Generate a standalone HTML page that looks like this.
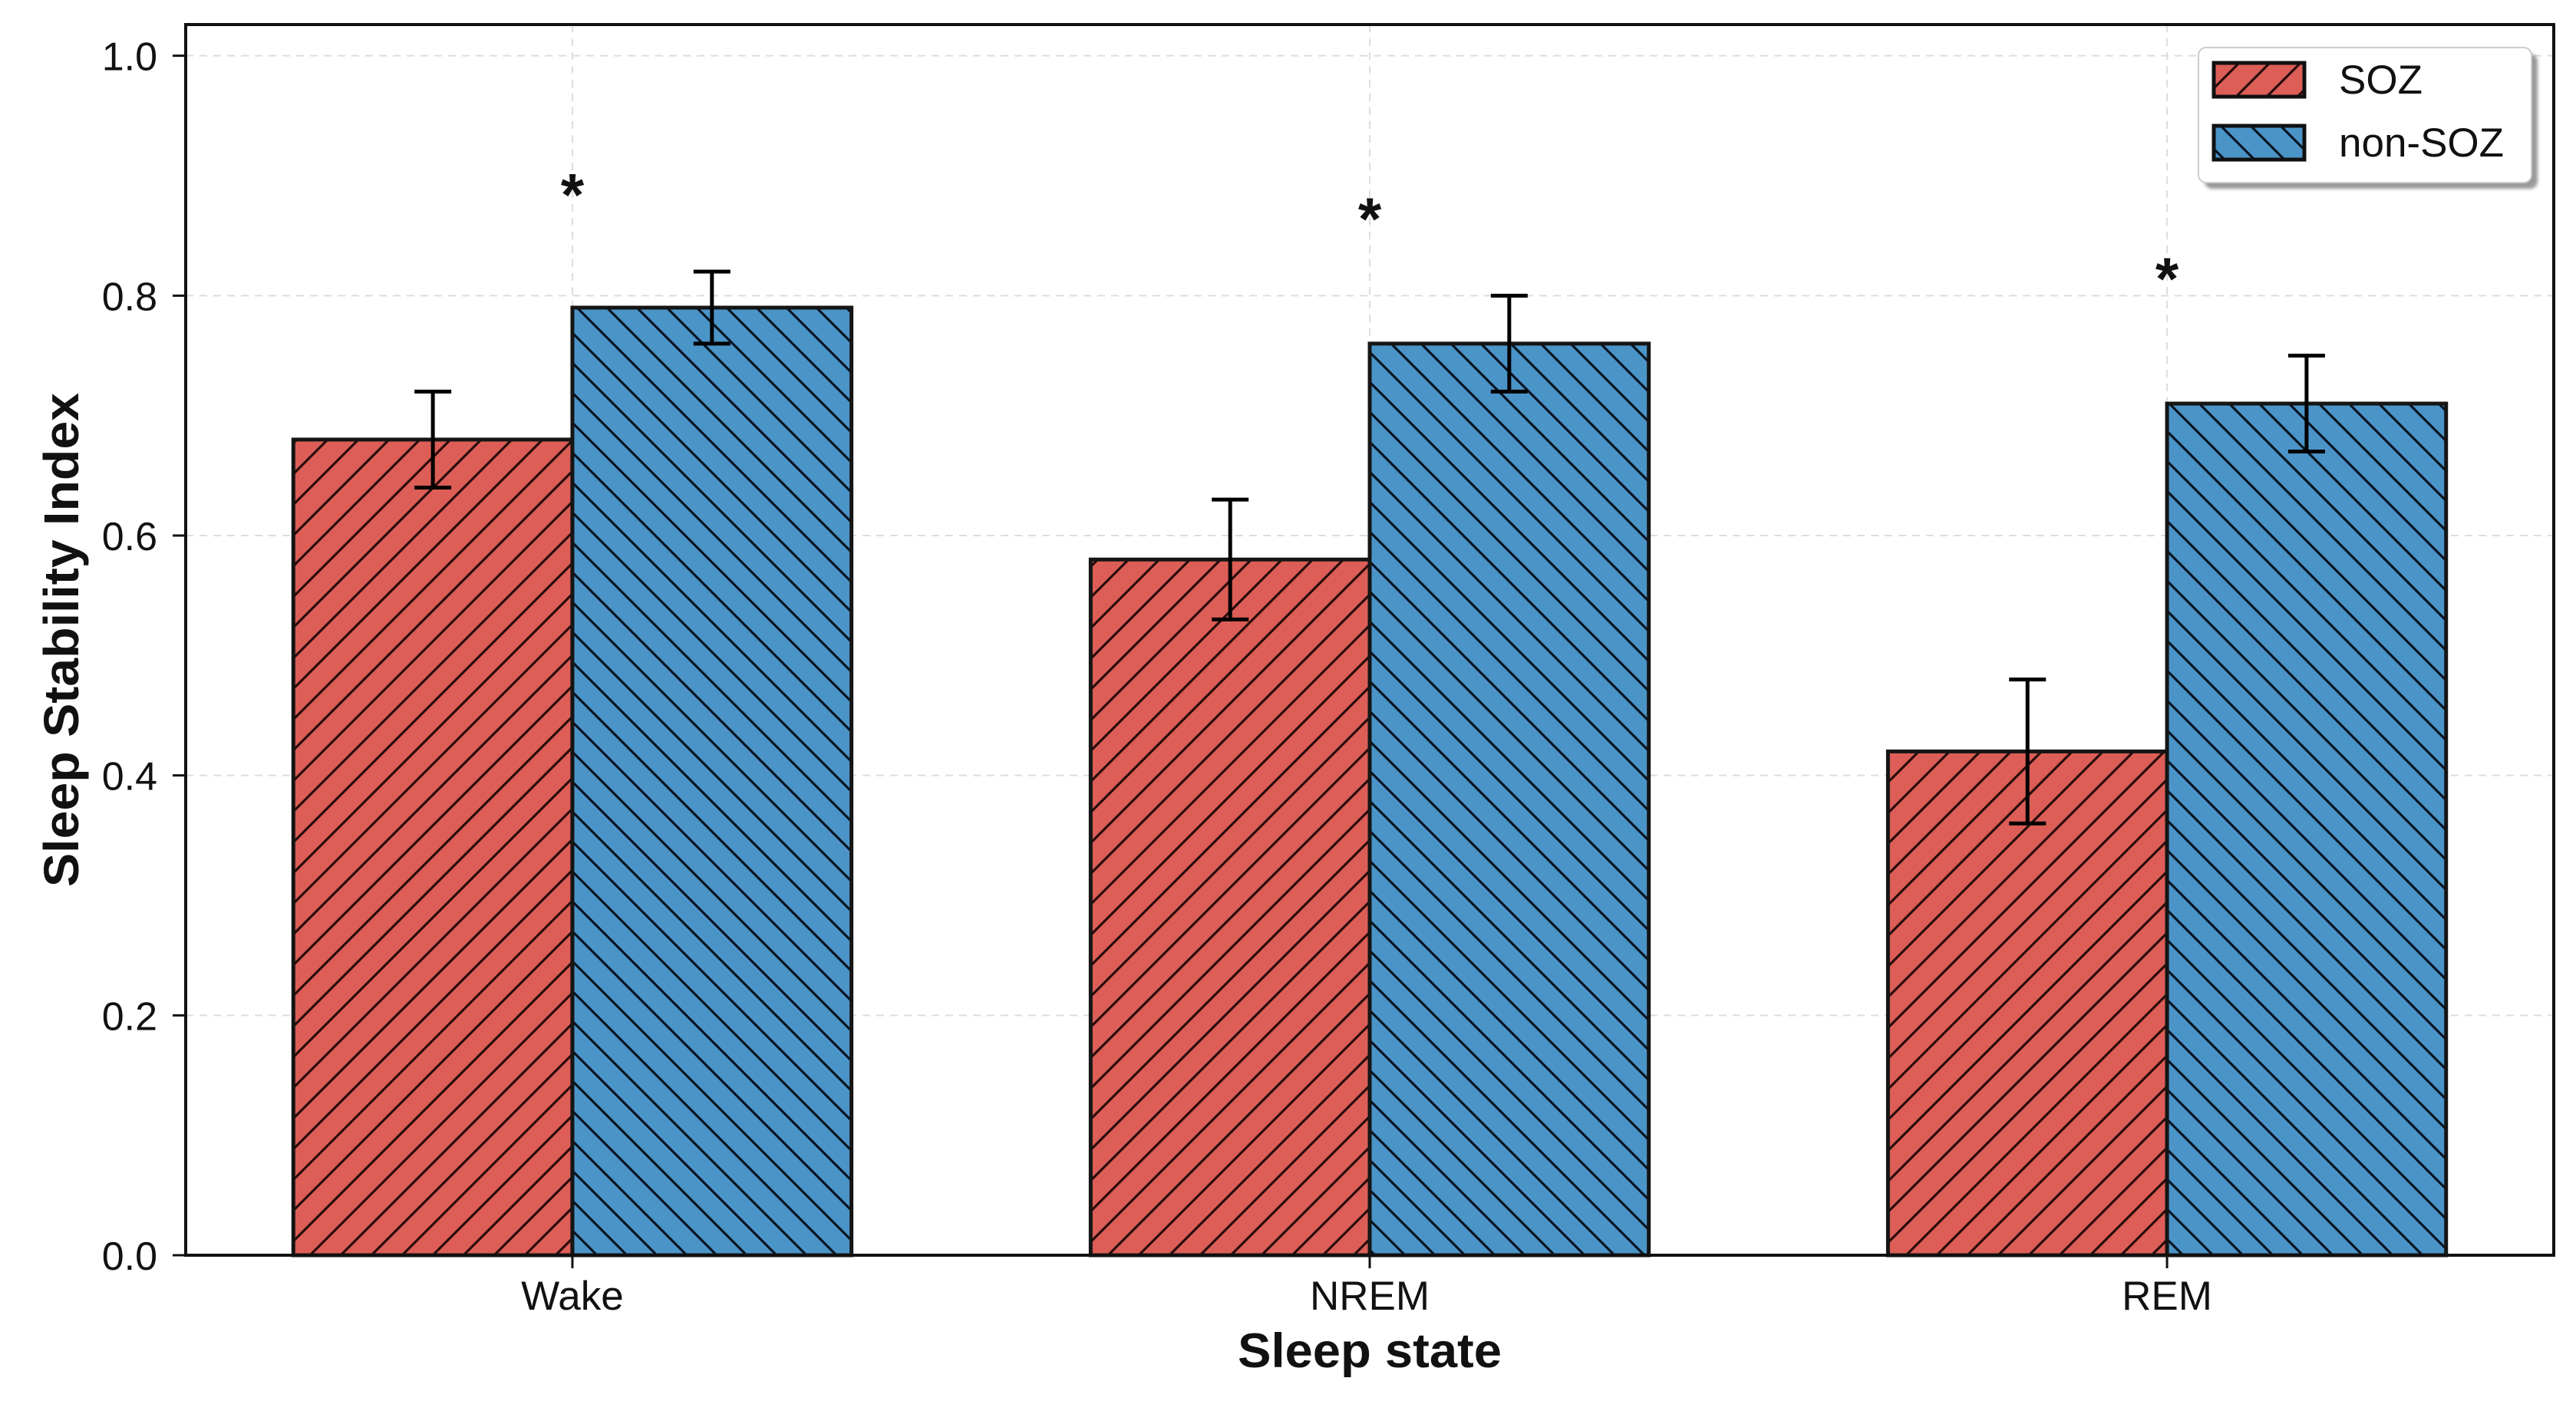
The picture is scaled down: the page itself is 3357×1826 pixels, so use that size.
<!DOCTYPE html>
<html><head><meta charset="utf-8"><style>
html,body{margin:0;padding:0;background:#fff;}
svg{display:block;font-family:"Liberation Sans",Arial,sans-serif;}
</style></head><body>
<svg id="chart" width="3357" height="1826" viewBox="0 0 3357 1826" xmlns="http://www.w3.org/2000/svg">
<defs>
<pattern id="hatchFwd" patternUnits="userSpaceOnUse" width="40" height="40">
<path d="M-40,80 L40,0 M0,80 L80,0 M-40,40 L40,-40 M0,40 L80,-40" stroke="#2a0c0a" stroke-width="3.2"/>
</pattern>
<pattern id="hatchBack" patternUnits="userSpaceOnUse" width="39" height="39">
<path d="M-39,-39 L39,39 M0,-39 L78,39 M-39,0 L39,78 M0,0 L78,78" stroke="#081522" stroke-width="3.2"/>
</pattern>
<filter id="sh" x="-10%" y="-10%" width="130%" height="140%"><feGaussianBlur stdDeviation="2"/></filter>
</defs>
<g id="grid"></g>
<g id="bars"></g>
<g id="axes"></g>
<g id="legend">
<rect x="2873" y="70" width="434" height="176" rx="10" fill="#999" filter="url(#sh)"/>
<rect x="2865" y="62" width="434" height="176" rx="10" fill="#fff" stroke="#ccc" stroke-width="2"/>
<g>
<rect x="2885" y="82" width="118" height="44" fill="#dc5e57"/>
<rect x="2885" y="82" width="118" height="44" fill="url(#hatchFwd)" stroke="#111" stroke-width="5"/>
<text x="3048" y="122" font-size="53" fill="#111">SOZ</text>
</g>
<g>
<rect x="2885" y="164" width="118" height="44" fill="#4b94c8"/>
<rect x="2885" y="164" width="118" height="44" fill="url(#hatchBack)" stroke="#111" stroke-width="5"/>
<text x="3048" y="204" font-size="53" fill="#111">non-SOZ</text>
</g>
</g>
</svg>
<script>
const categories = ["Wake", "NREM", "REM"];
const sozValues = [0.68, 0.58, 0.42];
const sozErrors = [0.04, 0.05, 0.06];
const nonSozValues = [0.79, 0.76, 0.71];
const nonSozErrors = [0.03, 0.04, 0.04];
const sigMarks = ["*", "*", "*"];
const yTicks = [0.0, 0.2, 0.4, 0.6, 0.8, 1.0];
const yTickLabels = ["0.0", "0.2", "0.4", "0.6", "0.8", "1.0"];

const NS = "http://www.w3.org/2000/svg";
const L = 242, R = 3328, T = 32, B = 1636;
const yMax = 1.026, xMin = -0.485, xMax = 2.485, barW = 0.35;
function yS(v){ return B - v / yMax * (B - T); }
function xS(v){ return L + (v - xMin) / (xMax - xMin) * (R - L); }
function mk(tag, attrs, parent){
  const e = document.createElementNS(NS, tag);
  for (const k in attrs) e.setAttribute(k, attrs[k]);
  parent.appendChild(e);
  return e;
}
const grid = document.getElementById('grid');
const bars = document.getElementById('bars');
const axes = document.getElementById('axes');

yTicks.forEach((t, i) => {
  const g = mk('line', {x1: L, x2: R, y1: yS(t), y2: yS(t), stroke: '#dddddd', 'stroke-width': 2, 'stroke-dasharray': '10,8'}, grid);
  
  
  const tk = mk('line', {x1: L - 17, x2: L, y1: yS(t), y2: yS(t), stroke: '#111', 'stroke-width': 3}, axes);
  
  
  const tx = mk('text', {x: 205, y: yS(t) + 19, 'font-size': 52, 'text-anchor': 'end', fill: '#111'}, axes);
  tx.textContent = yTickLabels[i];
  
  
});

categories.forEach((c, i) => {
  const cx = xS(i);
  const g = mk('line', {x1: cx, x2: cx, y1: T, y2: B, stroke: '#dddddd', 'stroke-width': 2, 'stroke-dasharray': '10,8'}, grid);
  
  

  const series = [
    {v: sozValues[i], e: sozErrors[i], x0: i - barW, fill: '#dc5e57', hatch: 'url(#hatchFwd)', name: 'bar-soz-' + c.toLowerCase()},
    {v: nonSozValues[i], e: nonSozErrors[i], x0: i, fill: '#4b94c8', hatch: 'url(#hatchBack)', name: 'bar-non-soz-' + c.toLowerCase()}
  ];
  series.forEach(s => {
    const x0 = xS(s.x0), x1 = xS(s.x0 + barW), y0 = yS(s.v);
    const bg = mk('g', {}, bars);
    
    
    mk('rect', {x: x0, y: y0, width: x1 - x0, height: B - y0, fill: s.fill}, bg);
    mk('rect', {x: x0, y: y0, width: x1 - x0, height: B - y0, fill: s.hatch, stroke: '#151515', 'stroke-width': 5}, bg);
    const mx = (x0 + x1) / 2, yt = yS(s.v + s.e), yb = yS(s.v - s.e);
    const eg = mk('g', {stroke: '#000', 'stroke-width': 5}, bars);
    
    
    mk('line', {x1: mx, x2: mx, y1: yt, y2: yb}, eg);
    mk('line', {x1: mx - 24, x2: mx + 24, y1: yt, y2: yt}, eg);
    mk('line', {x1: mx - 24, x2: mx + 24, y1: yb, y2: yb}, eg);
  });

  const top = Math.max(sozValues[i] + sozErrors[i], nonSozValues[i] + nonSozErrors[i]) + 0.07;
  const st = mk('text', {x: cx, y: yS(top) + 36, 'font-size': 78, 'font-weight': 'bold', 'text-anchor': 'middle', fill: '#111'}, axes);
  st.textContent = sigMarks[i];
  
  

  const tk = mk('line', {x1: cx, x2: cx, y1: B, y2: B + 17, stroke: '#111', 'stroke-width': 3}, axes);
  
  
  const tl = mk('text', {x: cx, y: 1707, 'font-size': 53, 'text-anchor': 'middle', fill: '#111'}, axes);
  tl.textContent = c;
  
  
});

const frame = mk('rect', {x: L, y: T, width: R - L, height: B - T, fill: 'none', stroke: '#111', 'stroke-width': 4}, axes);



const xl = mk('text', {x: xS(1), y: 1782, 'font-size': 63, 'font-weight': 'bold', 'text-anchor': 'middle', fill: '#111', textLength: 344, lengthAdjust: 'spacingAndGlyphs'}, axes);
xl.textContent = 'Sleep state';



const yl = mk('text', {x: 0, y: 0, 'font-size': 64, 'font-weight': 'bold', 'text-anchor': 'middle', fill: '#111', transform: 'translate(102,834) rotate(-90)', textLength: 644, lengthAdjust: 'spacingAndGlyphs'}, axes);
yl.textContent = 'Sleep Stability Index';


</script>
</body></html>
